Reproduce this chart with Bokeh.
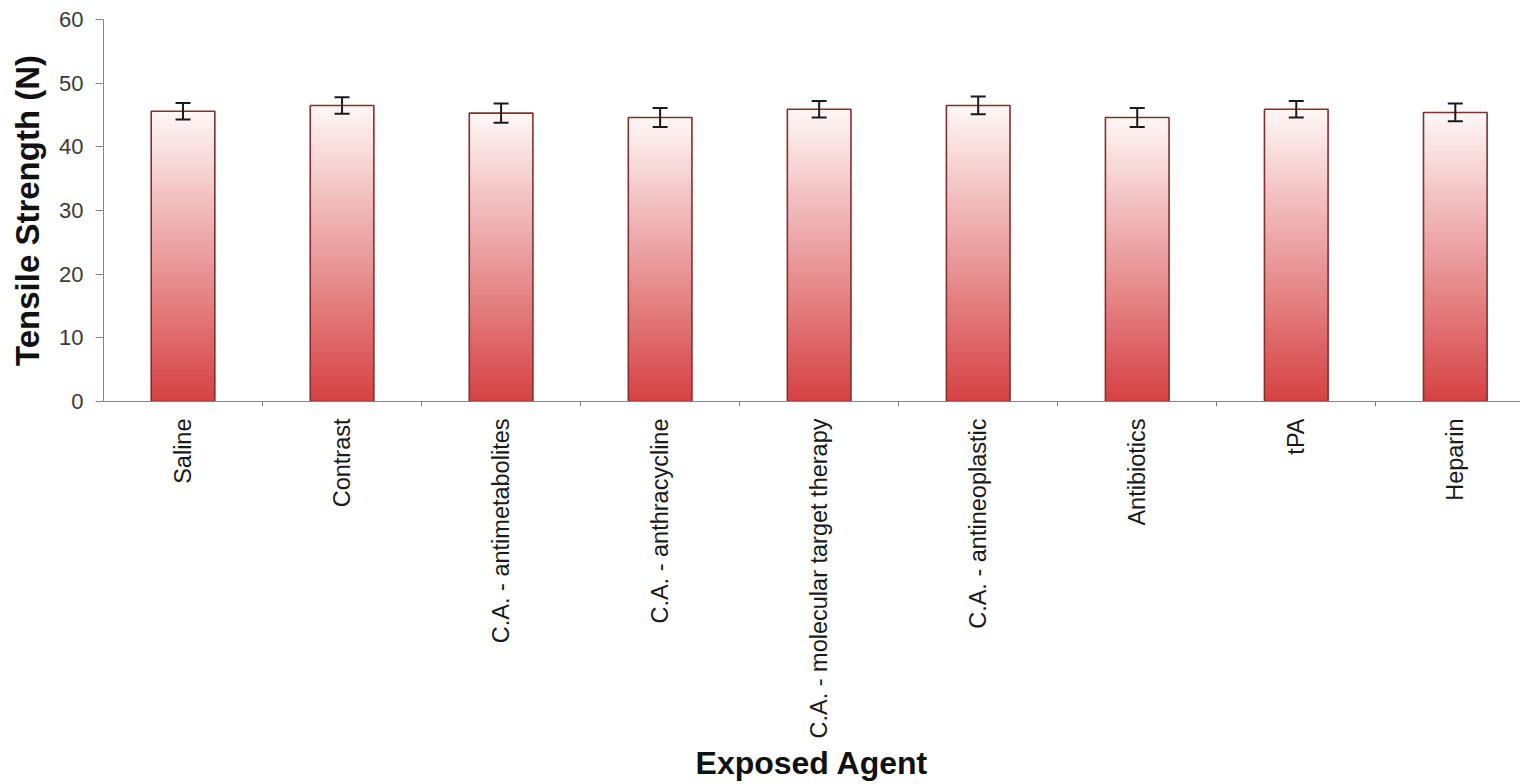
import math
from bokeh.plotting import figure
from bokeh.models import Range1d, FixedTicker, Whisker, ColumnDataSource, TeeHead
from bokeh.embed import file_html
from bokeh.resources import INLINE

agents = ["Saline", "Contrast", "C.A. - antimetabolites", "C.A. - anthracycline",
          "C.A. - molecular target therapy", "C.A. - antineoplastic",
          "Antibiotics", "tPA", "Heparin"]
strength = [45.6, 46.5, 45.3, 44.6, 45.9, 46.5, 44.6, 45.9, 45.4]
error = [1.3, 1.3, 1.5, 1.5, 1.3, 1.4, 1.5, 1.3, 1.4]
y_ticks = [0, 10, 20, 30, 40, 50, 60]

FONT = "Liberation Sans"
centers = [i + 0.5 for i in range(len(agents))]
bounds = [float(i) for i in range(1, len(agents) + 1)]

p = figure(width=1520, height=784, output_backend="svg", toolbar_location=None,
           x_range=Range1d(0, 8.91), y_range=Range1d(0, 60),
           min_border_left=103, min_border_right=0, min_border_top=19,
           min_border_bottom=383)
p.outline_line_color = None
p.xgrid.visible = False
p.ygrid.visible = False
p.background_fill_color = "white"

# gradient fill: stacked slices, red at bottom to near-white at top
bottom_rgb = (214, 66, 68)
top_rgb = (255, 248, 248)
N = 90
L, R, B, T, C = [], [], [], [], []
for xc, v in zip(centers, strength):
    for k in range(N):
        f = k / N
        col = tuple(int(round(bottom_rgb[j] + (top_rgb[j] - bottom_rgb[j]) * f)) for j in range(3))
        L.append(xc - 0.2)
        R.append(xc + 0.2)
        B.append(v * k / N)
        T.append(min(v, v * (k + 1) / N + 0.2))
        C.append("#%02x%02x%02x" % col)
p.quad(left=L, right=R, bottom=B, top=T, fill_color=C, line_color=None)

src = ColumnDataSource(dict(x=centers, top=strength,
                            upper=[v + e for v, e in zip(strength, error)],
                            lower=[v - e for v, e in zip(strength, error)]))
p.vbar(x="x", top="top", width=0.4, source=src, fill_color=None,
       line_color="#80302f", line_width=1.6)

w = Whisker(base="x", upper="upper", lower="lower", source=src,
            line_color="#1a1a1a", line_width=2, level="overlay",
            upper_head=TeeHead(size=15, line_width=2, line_color="#1a1a1a"),
            lower_head=TeeHead(size=15, line_width=2, line_color="#1a1a1a"))
p.add_layout(w)

# x axis
xa = p.xaxis[0]
xa.ticker = FixedTicker(ticks=centers, minor_ticks=bounds)
xa.major_label_overrides = {c: a for c, a in zip(centers, agents)}
xa.major_label_orientation = math.pi / 2
xa.major_tick_out = 0
xa.major_tick_in = 0
xa.minor_tick_out = 5
xa.minor_tick_in = 0
xa.major_label_standoff = 12
xa.major_label_text_font = FONT
xa.major_label_text_font_size = "23.5px"
xa.major_label_text_color = "#1a1a1a"
xa.axis_line_color = "#868686"
xa.minor_tick_line_color = "#868686"
xa.axis_label = "Exposed Agent"
xa.axis_label_text_font = FONT
xa.axis_label_text_font_style = "bold"
xa.axis_label_text_font_size = "32px"
xa.axis_label_text_color = "#111111"
xa.axis_label_standoff = 4

# y axis
ya = p.yaxis[0]
ya.ticker = FixedTicker(ticks=y_ticks)
ya.minor_tick_out = 0
ya.minor_tick_in = 0
ya.major_tick_out = 8
ya.major_tick_in = 0
ya.major_label_standoff = 12
ya.major_label_text_font = FONT
ya.major_label_text_font_size = "22px"
ya.major_label_text_color = "#3a3a3a"
ya.axis_line_color = "#868686"
ya.major_tick_line_color = "#868686"
ya.axis_label = "Tensile Strength (N)"
ya.axis_label_text_font = FONT
ya.axis_label_text_font_style = "bold"
ya.axis_label_text_font_size = "33px"
ya.axis_label_text_color = "#111111"
ya.axis_label_standoff = 10

open("out.html", "w").write(file_html(p, INLINE))
